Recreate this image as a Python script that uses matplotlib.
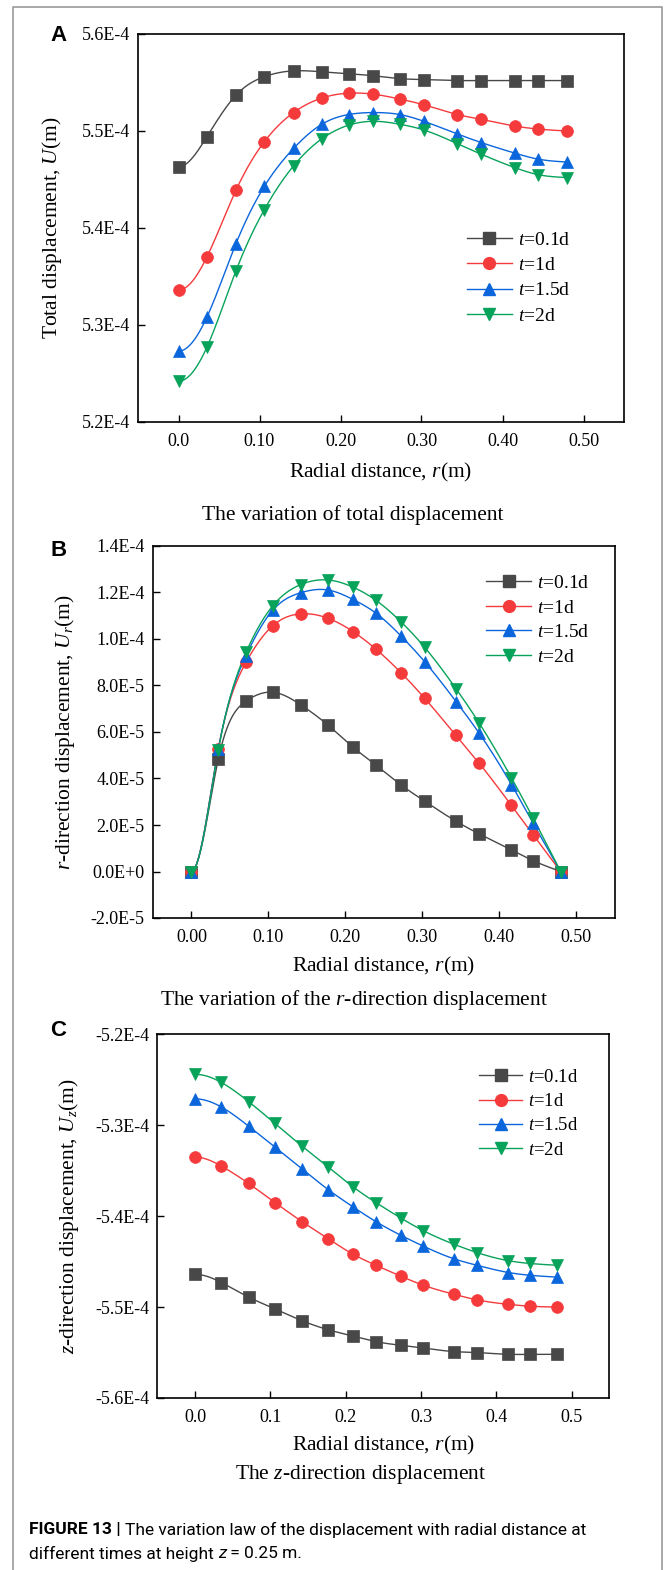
import numpy as np
import matplotlib
matplotlib.use('Agg')
import matplotlib.pyplot as plt
from matplotlib.lines import Line2D
from matplotlib.ticker import FuncFormatter

plt.rcParams['font.family'] = ['Liberation Serif', 'DejaVu Serif']
plt.rcParams['mathtext.fontset'] = 'custom'
plt.rcParams['mathtext.rm'] = 'Liberation Serif'
plt.rcParams['mathtext.it'] = 'Liberation Serif:italic'

W, H = 665, 1570

# radial positions of the points (m)
r = [0.0, 0.035, 0.071, 0.106, 0.142, 0.177, 0.21, 0.24, 0.273, 0.303,
     0.344, 0.374, 0.416, 0.444, 0.48]

labels = ['t=0.1d', 't=1d', 't=1.5d', 't=2d']

# (A) total displacement, x1e-4 m
u_01 = [5.463, 5.494, 5.537, 5.556, 5.562, 5.561, 5.559, 5.557, 5.554, 5.553,
        5.552, 5.552, 5.552, 5.552, 5.552]
u_1 = [5.336, 5.370, 5.439, 5.489, 5.519, 5.534, 5.539, 5.538, 5.533, 5.527,
       5.517, 5.512, 5.505, 5.502, 5.500]
u_15 = [5.273, 5.308, 5.384, 5.443, 5.482, 5.507, 5.517, 5.519, 5.517, 5.510,
        5.497, 5.488, 5.477, 5.471, 5.468]
u_2 = [5.242, 5.277, 5.356, 5.419, 5.464, 5.492, 5.506, 5.510, 5.507, 5.501,
       5.487, 5.476, 5.462, 5.455, 5.452]

# (B) r-direction displacement, x1e-5 m
ur_01 = [0.0, 4.85, 7.33, 7.71, 7.17, 6.31, 5.35, 4.57, 3.71, 3.03,
         2.16, 1.62, 0.93, 0.47, 0.0]
ur_1 = [0.0, 5.28, 9.00, 10.58, 11.08, 10.90, 10.32, 9.56, 8.53, 7.46,
        5.85, 4.66, 2.84, 1.59, 0.0]
ur_15 = [0.0, 5.28, 9.29, 11.25, 11.99, 12.11, 11.70, 11.11, 10.11, 9.03,
         7.31, 5.95, 3.74, 2.09, 0.0]
ur_2 = [0.0, 5.23, 9.43, 11.44, 12.34, 12.54, 12.23, 11.66, 10.72, 9.65,
        7.86, 6.39, 4.03, 2.31, 0.0]

# (C) z-direction displacement, x1e-4 m
uz_01 = [-5.464, -5.473, -5.489, -5.502, -5.515, -5.525, -5.532, -5.538, -5.542, -5.545,
         -5.549, -5.550, -5.552, -5.552, -5.552]
uz_1 = [-5.335, -5.345, -5.364, -5.385, -5.406, -5.425, -5.442, -5.454, -5.466, -5.476,
        -5.486, -5.492, -5.497, -5.499, -5.500]
uz_15 = [-5.271, -5.280, -5.301, -5.324, -5.348, -5.371, -5.390, -5.406, -5.421, -5.433,
         -5.447, -5.454, -5.462, -5.465, -5.467]
uz_2 = [-5.244, -5.253, -5.274, -5.298, -5.323, -5.346, -5.368, -5.385, -5.402, -5.416,
        -5.431, -5.440, -5.449, -5.452, -5.454]

colors = ['#484848', '#F53A3C', '#0B66DC', '#08A35A']
markers = ['s', 'o', '^', 'v']


def smooth(x, y, n=400):
    # cubic spline through the points (zero slope at r=0, natural at the end)
    x = np.asarray(x, float)
    y = np.asarray(y, float)
    h = np.diff(x)
    N = len(x)
    A = np.zeros((N, N))
    b = np.zeros(N)
    A[0, 0] = 2 * h[0]
    A[0, 1] = h[0]
    b[0] = 6 * (y[1] - y[0]) / h[0]
    for i in range(1, N - 1):
        A[i, i - 1] = h[i - 1]
        A[i, i] = 2 * (h[i - 1] + h[i])
        A[i, i + 1] = h[i]
        b[i] = 6 * ((y[i + 1] - y[i]) / h[i] - (y[i] - y[i - 1]) / h[i - 1])
    A[-1, -1] = 1
    M = np.linalg.solve(A, b)
    xs = np.linspace(x[0], x[-1], n)
    k = np.clip(np.searchsorted(x, xs) - 1, 0, N - 2)
    t0 = x[k + 1] - xs
    t1 = xs - x[k]
    hk = h[k]
    ys = (M[k] * t0 ** 3 + M[k + 1] * t1 ** 3) / (6 * hk) \
        + (y[k] / hk - M[k] * hk / 6) * t0 + (y[k + 1] / hk - M[k + 1] * hk / 6) * t1
    return xs, ys


def sci(v, pos):
    # Origin style labels: 5.6E-4, 0.0E+0
    if abs(v) < 1e-12:
        return '0.0E+0'
    m, e = f"{v:.1E}".split('E')
    return f"{m}E{int(e)}"


def box(l, t, rr, bb):
    return [l / W, 1 - bb / H, (rr - l) / W, (bb - t) / H]


fig = plt.figure(figsize=(W / 100, H / 100), dpi=100)

# grey frame round the figure
fig.add_artist(Line2D([13 / W, 13 / W, 662 / W, 662 / W], [0, 1 - 6.5 / H, 1 - 6.5 / H, 0],
                      transform=fig.transFigure, color='#9a9a9a', lw=1.2))


def panel(rect, series, scale, ylim, yticks, xticklabels, ylabel, ylab_x, leg_xy, leg_fs, leg_sp):
    ax = fig.add_axes(rect)
    for vals, c, m in zip(series, colors, markers):
        v = np.asarray(vals) * scale
        xs, ys = smooth(r, v)
        ax.plot(xs, ys, color=c, lw=1.0, zorder=2)
        ax.plot(r, v, ls='none', marker=m, ms=8.5, mfc=c, mec=c, mew=0.5, zorder=3)
    ax.set_xlim(-0.05, 0.55)
    ax.set_ylim(*ylim)
    ax.set_xticks([0, 0.1, 0.2, 0.3, 0.4, 0.5], xticklabels)
    ax.set_yticks(yticks)
    ax.yaxis.set_major_formatter(FuncFormatter(sci))
    ax.tick_params(direction='in', length=5, width=1.0, labelsize=13, pad=6)
    ax.tick_params(axis='x', pad=8)
    for s in ax.spines.values():
        s.set_linewidth(1.2)
    ax.set_ylabel(ylabel, fontsize=15.5)
    ax.yaxis.set_label_coords(ylab_x, 0.5)
    ax.set_xlabel(r'Radial distance, $r$(m)', fontsize=15.5, va='center')
    ax.xaxis.set_label_coords(0.5, -0.13)
    handles = [Line2D([], [], color=c, lw=1.0, marker=m, ms=8.5, mfc=c, mec=c)
               for c, m in zip(colors, markers)]
    names = [r'$t$' + s[1:] for s in labels]
    ax.legend(handles, names, loc='upper left', bbox_to_anchor=leg_xy, frameon=False,
              borderpad=0, borderaxespad=0, handlelength=2.3, handletextpad=0.3,
              labelspacing=leg_sp, prop={'size': leg_fs}, numpoints=1)
    return ax


panel(box(138, 34, 624, 422), [u_01, u_1, u_15, u_2], 1e-4, (5.2e-4, 5.6e-4),
      [5.2e-4, 5.3e-4, 5.4e-4, 5.5e-4, 5.6e-4],
      ['0.0', '0.10', '0.20', '0.30', '0.40', '0.50'],
      r'Total displacement, $U$(m)', -0.152, (0.677, 0.492), 14, 0.4)

panel(box(153, 546, 614.5, 918), [ur_01, ur_1, ur_15, ur_2], 1e-5, (-2e-5, 1.4e-4),
      [-2e-5, 0, 2e-5, 4e-5, 6e-5, 8e-5, 1e-4, 1.2e-4, 1.4e-4],
      ['0.00', '0.10', '0.20', '0.30', '0.40', '0.50'],
      r'$r$-direction displacement, $U_r$(m)', -0.165, (0.722, 0.923), 14, 0.35)

panel(box(157.4, 1034.3, 609.4, 1398), [uz_01, uz_1, uz_15, uz_2], 1e-4, (-5.6e-4, -5.2e-4),
      [-5.6e-4, -5.5e-4, -5.4e-4, -5.3e-4, -5.2e-4],
      ['0.0', '0.1', '0.2', '0.3', '0.4', '0.5'],
      r'$z$-direction displacement, $U_z$(m)', -0.169, (0.7115, 0.905), 13.5, 0.38)

# panel letters
for letter, yb in [('A', 41), ('B', 556), ('C', 1036)]:
    fig.text(50 / W, 1 - yb / H, letter, fontsize=16, fontweight='bold',
             family='Liberation Sans', va='baseline', ha='left')

# sub-titles
fig.text(353 / W, 1 - 515 / H, 'The variation of total displacement',
         fontsize=15.5, ha='center', va='center')
fig.text(354 / W, 1 - 1000 / H, r'The variation of the $r$-direction displacement',
         fontsize=15.5, ha='center', va='center')
fig.text(361 / W, 1 - 1474 / H, r'The $z$-direction displacement',
         fontsize=15.5, ha='center', va='center')

# caption, written in runs
renderer = fig.canvas.get_renderer()


def runs(x0, yc, parts, size=12.5):
    x = x0
    for txt, kw in parts:
        t = fig.text(x / W, 1 - yc / H, txt, fontsize=size, family='Roboto',
                     va='center', ha='left', **kw)
        x += t.get_window_extent(renderer).width


runs(29, 1530, [('FIGURE 13 | ', {'fontweight': 'bold'}),
                ('The variation law of the displacement with radial distance at', {})])
runs(29, 1554, [('different times at height ', {}), ('z', {'style': 'italic'}),
                (' = 0.25 m.', {})])

fig.savefig('out.png', dpi=100)
